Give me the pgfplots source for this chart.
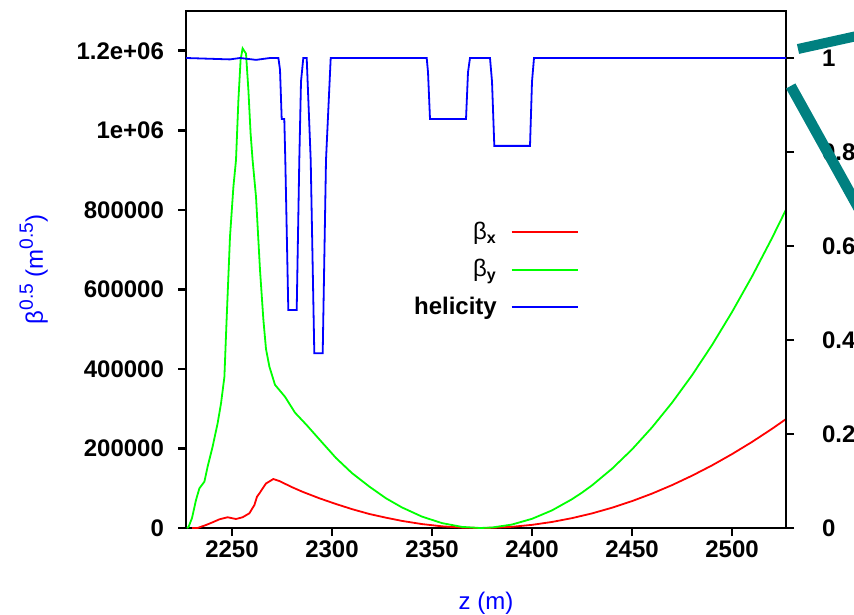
\documentclass[border=0pt]{standalone}
\usepackage{fontspec}
\setmainfont{Liberation Sans}
\usepackage{pgfplots}
\pgfplotsset{compat=1.18}
\definecolor{tealbar}{RGB}{0,128,128}
\newcommand{\fs}{\fontsize{12}{14.4}\selectfont}
\newcommand{\sups}[1]{\raisebox{0.42em}{\fontsize{9.6}{11}\selectfont #1}}

% beta_x and beta_y (left axis)
\pgfplotstableread{
z bx
2230 0
2232.8 0
2237 7500
2240.3 14300
2243.7 21800
2247.8 27000
2252 22600
2255.3 27000
2258.7 37000
2261.2 57800
2262.5 78700
2263.7 87000
2267 112000
2270.7 123200
2273.7 118000
2280.3 102000
2285.3 91000
2293.7 74700
2302 60300
2310.3 47000
2318.7 35200
2327 25900
2335 17800
2345 9840
2355 4220
2365 950
2374 0
2380 420
2390 3000
2400 7900
2410 15200
2420 24800
2430 36700
2440 51000
2450 67600
2460 86500
2470 107800
2480 131500
2490 157400
2500 185800
2510 216400
2520 249400
2527 273900
}\betax
\pgfplotstableread{
z by
2227.5 0
2228.3 3000
2230 25000
2232 70400
2233.7 99800
2236.2 116400
2237.8 154000
2240.3 204400
2242.8 263000
2244.5 313000
2246.2 380000
2247.3 523000
2249 732500
2250.7 858000
2252 925000
2253.2 1076000
2254.3 1177000
2255.3 1206000
2257 1193000
2258.2 1101000
2259.3 992000
2260.3 925000
2262 833000
2264 649000
2265.7 523000
2267 450000
2268.7 405600
2271.5 360000
2276.5 330000
2281.5 290000
2287.3 259000
2294 221000
2302 176000
2310 138000
2318.7 104000
2327 74700
2335 51700
2345 28600
2355 12300
2365 2750
2374 0
2380 1200
2390 8700
2400 23100
2410 44300
2420 72400
2425 89000
2430 107200
2440 149000
2450 197500
2460 253000
2470 315000
2480 384000
2490 460000
2500 543000
2510 632500
2520 729000
2527 800600
}\betay
% helicity (right axis)
\pgfplotstableread{
z h
2227 1.0
2249 0.997
2254 1.0
2262 0.996
2269 1.0
2273.2 1.0
2274 0.975
2274.85 0.87
2276.15 0.87
2276.65 0.783
2278.15 0.464
2282.35 0.464
2283.65 0.783
2284.5 0.95
2285.65 1.0
2287.35 1.0
2289.35 0.783
2291.15 0.372
2295.35 0.372
2297 0.783
2299.35 1.0
2347.35 1.0
2348 0.97
2349 0.87
2367 0.87
2368 0.97
2369 1.0
2379 1.0
2380 0.95
2381.15 0.813
2399 0.813
2400 0.95
2401 1.0
2527 1.0
}\helic

\begin{document}
\begin{tikzpicture}
\pgfplotsset{
  every axis/.append style={
    scale only axis, width=300pt, height=258.5pt,
    xmin=2227, xmax=2527,
    axis line style={line width=1.3pt},
    tick style={line width=1.3pt, black},
    major tick length=4pt,
    tick align=outside,
    ticklabel style={font=\fs\bfseries},
    scaled ticks=false,
  },
}
\begin{axis}[
  ymin=0, ymax=1.3e6,
  xtick={2250,2300,2350,2400,2450,2500},
  xticklabels={2250,2300,2350,2400,2450,2500},
  ytick={0,200000,400000,600000,800000,1000000,1200000},
  yticklabels={0,200000,400000,600000,800000,1e+06,1.2e+06},
  yticklabel style={xshift=-3.5pt},
  xticklabel style={yshift=1pt},
  xtick pos=bottom, ytick pos=left,
  xlabel={z (m)},
  ylabel={β\sups{0.5} (m\sups{0.5})},
  label style={font=\fs, text=blue},
  xlabel style={at={(axis description cs:0.5,-0.145)}, anchor=center},
  ylabel style={at={(axis description cs:-0.254,0.5)}, anchor=center},
]
\addplot[red, line width=0.9pt] table[x=z, y=bx] {\betax};
\addplot[green, line width=0.9pt] table[x=z, y=by] {\betay};
\end{axis}
\begin{axis}[
  ymin=0, ymax=1.1,
  axis y line*=right, axis x line=none,
  ytick={0,0.2,0.4,0.6,0.8,1},
  yticklabels={0,0.2,0.4,0.6,0.8,1},
  yticklabel style={xshift=10.5pt},
  legend plot pos=right,
  legend cell align=right,
  legend image code/.code={\path (0pt,0pt); \draw[#1] (5pt,0pt) -- (38pt,0pt);},
  legend style={draw=none, fill=none, font=\fs\bfseries,
    at={(rel axis cs:0.665,0.608)}, anchor=north east, row sep=4.5pt},
]
\addlegendimage{red, line width=0.9pt}
\addlegendentry{{\mdseries β}\textsubscript{x}}
\addlegendimage{green, line width=0.9pt}
\addlegendentry{{\mdseries β}\textsubscript{y}}
\addplot[blue, line width=0.9pt] table[x=z, y=h] {\helic};
\addlegendentry{helicity}
\end{axis}
\begin{scope}
\clip (-93pt,-43pt) rectangle (334pt,264pt);
\draw[tealbar, line width=5pt] (306pt,239.5pt) -- (345pt,248.1pt);
\draw[tealbar, line width=5.3pt] (302.35pt,221pt) -- (345pt,144.2pt);
\end{scope}
\pgfresetboundingbox
\useasboundingbox (-93pt,-43pt) rectangle (334pt,264pt);
\end{tikzpicture}
\end{document}
